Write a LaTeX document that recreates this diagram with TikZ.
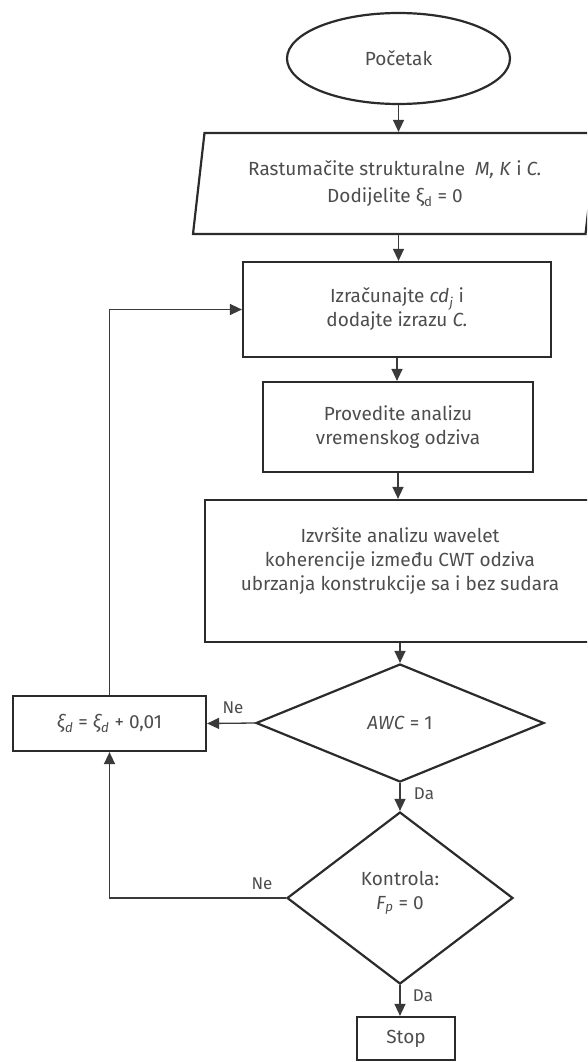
\documentclass[tikz,border=0pt]{standalone}
\usepackage{fontspec}
\setmainfont{Fira Sans}
\usetikzlibrary{arrows.meta,shapes.geometric}
\definecolor{txt}{HTML}{4D4D4D}
\definecolor{bord}{HTML}{2B2B2B}
\definecolor{conn}{HTML}{3A3A3A}
\tikzset{
  base/.style={draw=bord, line width=2.2pt, text=txt, align=center, inner sep=0pt,
    font=\fontsize{19}{24}\selectfont},
  boxn/.style={base, rectangle},
  decn/.style={base, diamond},
  connector/.style={draw=conn, line width=1.3pt, -{Triangle[length=12pt,width=11pt]}},
  lbl/.style={text=txt, font=\fontsize{17}{19}\selectfont, inner sep=0pt},
}
\begin{document}
\begin{tikzpicture}[x=1pt,y=-1pt]
\useasboundingbox (0,0) rectangle (587,1062);
\clip (0,0) rectangle (587,1062);
\node[base, ellipse, minimum width=223pt, minimum height=91pt] (start) at (398.5,58.5) {Početak};
\node[base, trapezium, trapezium left angle=76, trapezium right angle=104,
  trapezium stretches body=true, minimum width=404pt, minimum height=101pt] (para) at (395,183.5)
  {Rastumačite strukturalne\ \ \textit{M, K} i \textit{C.}\\[3pt]Dodijelite ξ\textsubscript{d} = 0};
\node[boxn, minimum width=308pt, minimum height=95pt] (b1) at (397,309.5)
  {Izračunajte \textit{cd\textsubscript{j}} i\\dodajte izrazu \textit{C.}};
\node[boxn, minimum width=270pt, minimum height=90pt] (b2) at (398,427)
  {Provedite analizu\\vremenskog odziva};
\node[boxn, minimum width=390pt, minimum height=142pt] (b3) at (400,571)
  {Izvršite analizu wavelet\\koherencije između CWT odziva\\ubrzanja konstrukcije sa i bez sudara\\ ~};
\node[decn, minimum width=288pt, minimum height=118pt, aspect=2.44] (d1) at (400,723)
  {\textit{AWC} = 1};
\node[boxn, minimum width=193pt, minimum height=55pt] (lb) at (109.5,723.5)
  {\textit{ξ\textsubscript{d}} = \textit{ξ\textsubscript{d}} + 0,01};
\node[decn, minimum width=226pt, minimum height=172pt, aspect=1.31] (d2) at (400,898)
  {Kontrola:\\\textit{F\textsubscript{p}} = 0\\[-8pt]~};
\node[boxn, minimum width=98pt, minimum height=43pt] (stop) at (406,1038.5) {Stop};

\draw[connector] (start.south) -- (start.south |- para.north);
\draw[connector] (para.south -| start.south) -- (start.south |- b1.north);
\draw[connector] (b1.south) -- (b1.south |- b2.north);
\draw[connector] (b2.south) -- (b2.south |- b3.north);
\draw[connector] (b3.south) -- (d1.north);
\draw[connector] (d1.west) -- (lb.east);
\draw[connector] (lb.north) |- (b1.west);
\draw[connector] (d1.south) -- (d2.north);
\draw[connector] (d2.west) -| (lb.south);
\draw[connector] (d2.south) -- (d2.south |- stop.north);

\node[lbl] (ne1) at (233,708) {Ne};
\node[lbl] (da1) at (424,794) {Da};
\node[lbl] (ne2) at (262,884) {Ne};
\node[lbl] (da2) at (423,996) {Da};
\end{tikzpicture}
\end{document}
